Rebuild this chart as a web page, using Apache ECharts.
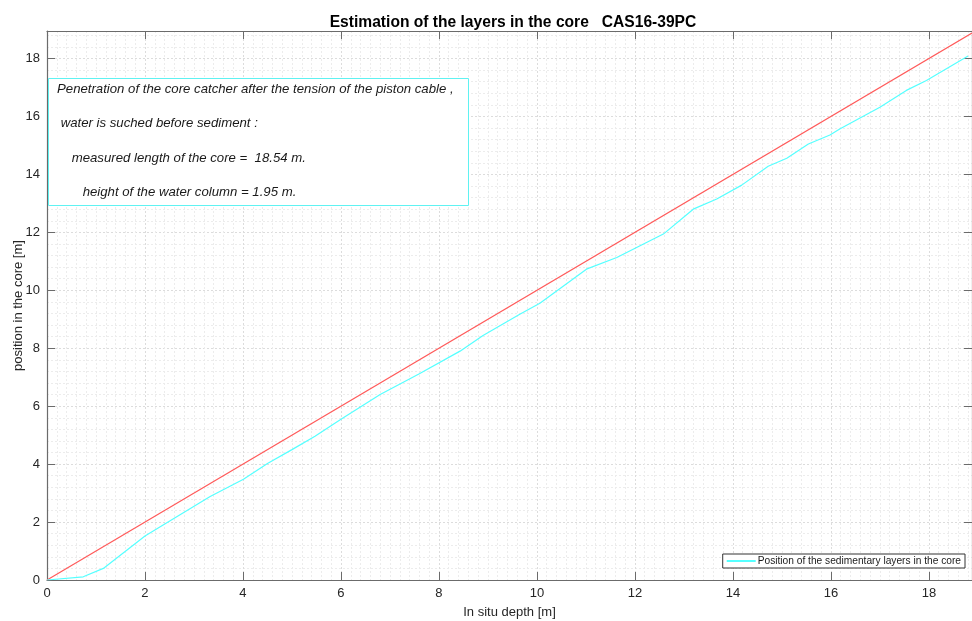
<!DOCTYPE html>
<html lang="en">
<head>
	<meta charset="UTF-8">
	<title>Estimation of the layers in the core</title>
	<script src="https://cdn.jsdelivr.net/npm/echarts@6/dist/echarts.min.js"></script>
	<style>
		html, body{
			width: 100%;
			height: 100%;
			margin: 0;
			padding: 0;
			background: #fff;
		}
		#main{
			width: 972px;
			height: 621px;
		}
	</style>
</head>
<body>
	<div id="main"></div>
<script>
	// 数据
	let titleText = 'Estimation of the layers in the core   CAS16-39PC';
	let xName = 'In situ depth [m]';
	let yName = 'position in the core [m]';
	let legendName = 'Position of the sedimentary layers in the core';
	let xMax = 18.88;
	let yMax = 18.95;
	// 原位深度 -> 岩芯位置（蓝绿线）
	let layerDepth = [0, 0.74, 1.15, 2.0, 3.33, 4.01, 4.5, 5.0, 5.47, 6.0, 6.8, 7.6, 8.43, 8.9, 9.65, 10.06, 11.01, 11.63, 12.58, 13.19, 13.67, 14.18, 14.72, 15.1, 15.54, 15.98, 16.18, 17.0, 17.54, 17.95, 18.8];
	let layerPos = [0, 0.11, 0.40, 1.52, 2.88, 3.48, 4.02, 4.50, 4.96, 5.55, 6.40, 7.12, 7.90, 8.44, 9.17, 9.55, 10.73, 11.13, 11.94, 12.80, 13.15, 13.63, 14.28, 14.56, 15.05, 15.36, 15.57, 16.32, 16.90, 17.24, 18.09];
	// 参考线 y = x
	let refLine = [[0, 0], [xMax, xMax]];
	let boxLines = [
		'Penetration of the core catcher after the tension of the piston cable ,',
		' water is suched before sediment :',
		'    measured length of the core =  18.54 m.',
		'       height of the water column = 1.95 m.'
	];

	let myChart = echarts.init(document.getElementById('main'));
	let font = '"Liberation Sans", Arial, sans-serif';
	let axisColor = '#6b6b6b';

	function makeAxis(max, minorSplit, show, pos){
		return {
			type: 'value',
			min: 0,
			max: max,
			interval: 2,
			position: pos,
			axisLine: {show: true, onZero: false, lineStyle: {color: axisColor, width: 1.2}},
			axisTick: {show: true, inside: true, length: 8, lineStyle: {color: axisColor}},
			axisLabel: {show: show, color: '#262626', fontSize: 13, fontFamily: font, margin: 7, showMaxLabel: false},
			splitLine: {show: show, lineStyle: {color: '#dcdcdc', type: [2, 2]}},
			minorTick: {show: false, splitNumber: minorSplit},
			minorSplitLine: {show: show, lineStyle: {color: '#ececec', type: [2, 2]}}
		};
	}

	let xMain = makeAxis(xMax, 10, true, 'bottom');
	xMain.name = xName;
	xMain.nameLocation = 'middle';
	xMain.nameGap = 26;
	xMain.nameMoveOverlap = false;
	xMain.nameTextStyle = {color: '#262626', fontSize: 13, fontFamily: font};
	let yMain = makeAxis(yMax, 5, true, 'left');
	yMain.name = yName;
	yMain.nameLocation = 'middle';
	yMain.nameGap = 22;
	yMain.nameMoveOverlap = false;
	yMain.nameTextStyle = {color: '#262626', fontSize: 13, fontFamily: font};

	let boxText = [];
	boxLines.forEach((s, i) => {
		boxText.push({
			type: 'text',
			left: 57,
			top: 83 + i * 34.3,
			z: 11,
			style: {text: s, fill: '#1a1a1a', font: 'italic 13.2px ' + font}
		});
	});

	myChart.setOption({
		animation: false,
		title: {
			text: titleText,
			left: 508,
			top: 10,
			textAlign: 'center',
			textStyle: {fontSize: 15.6, fontWeight: 'bold', color: '#000', fontFamily: font}
		},
		grid: {left: 47, right: 0, top: 31, bottom: 41, outerBoundsMode: 'none', containLabel: false},
		xAxis: [xMain, makeAxis(xMax, 10, false, 'top')],
		yAxis: [yMain, makeAxis(yMax, 5, false, 'right')],
		legend: {
			data: [legendName],
			right: 7,
			bottom: 53,
			orient: 'vertical',
			backgroundColor: '#fff',
			borderColor: '#333',
			borderWidth: 1,
			padding: [2, 4, 2, 4],
			itemWidth: 29,
			itemHeight: 2,
			itemGap: 0,
			icon: 'rect',
			textStyle: {color: '#1a1a1a', fontSize: 10.2, fontFamily: font, padding: [0, 0, 0, -3]}
		},
		graphic: [{
			type: 'rect',
			left: 48,
			top: 78,
			shape: {width: 420, height: 127},
			style: {fill: '#fff', stroke: '#5ff2f2', lineWidth: 1},
			z: 10
		}].concat(boxText),
		series: [{
			name: 'ref',
			type: 'line',
			data: refLine,
			showSymbol: false,
			lineStyle: {color: '#ff5a5a', width: 1.2},
			itemStyle: {color: '#ff5a5a'}
		}, {
			name: legendName,
			type: 'line',
			data: layerDepth.map((d, i) => [d, layerPos[i]]),
			showSymbol: false,
			lineStyle: {color: '#55ffff', width: 1.2},
			itemStyle: {color: '#55ffff'}
		}]
	});
</script>
</body>
</html>
